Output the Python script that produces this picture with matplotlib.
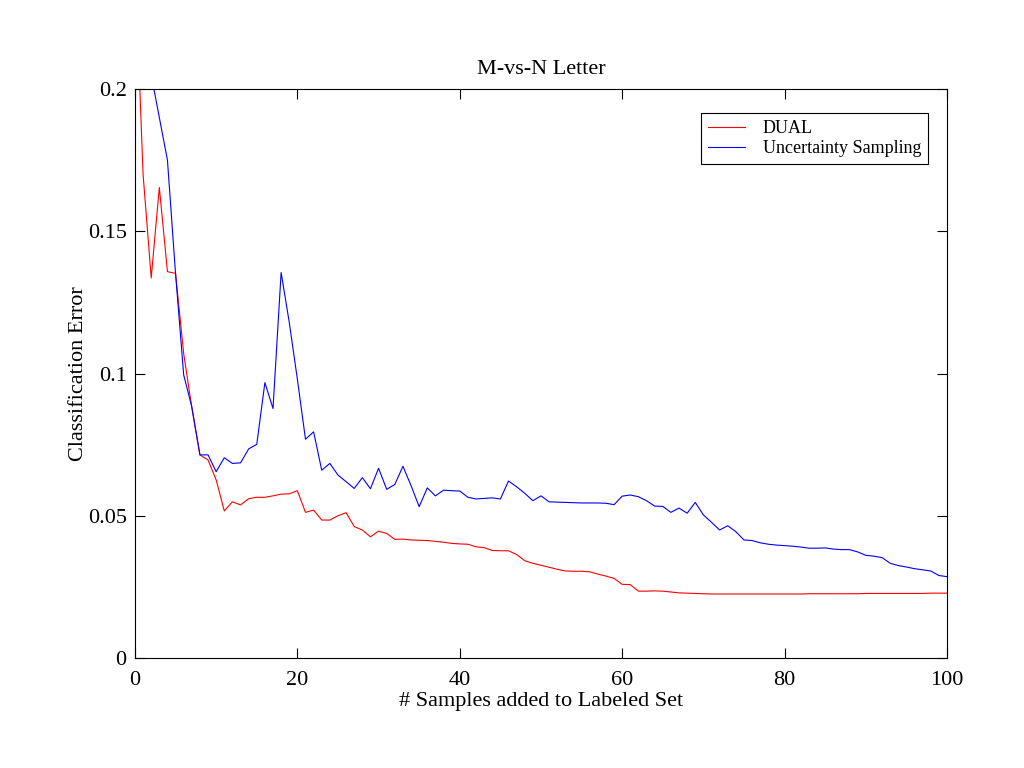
import numpy as np
import matplotlib.pyplot as plt

plt.rcParams['font.family'] = ['Liberation Serif', 'DejaVu Serif']

# samples added (0..100)
n_samples = np.arange(0, 101)

dual = [0.245, 0.170, 0.1336, 0.1654, 0.1358, 0.1352, 0.107, 0.088, 0.0714, 0.0696,
        0.0626, 0.0517, 0.0549, 0.0538, 0.0560, 0.0565, 0.0565, 0.0570, 0.0576, 0.0577,
        0.0588, 0.0512, 0.0520, 0.0485, 0.0485, 0.0500, 0.0511, 0.0462, 0.0450, 0.0426,
        0.0446, 0.0438, 0.0417, 0.0418, 0.0415, 0.0414, 0.0413, 0.0410, 0.0407, 0.0403,
        0.0401, 0.0400, 0.0391, 0.0388, 0.0378, 0.0377, 0.0377, 0.0364, 0.0342, 0.0333,
        0.0326, 0.0319, 0.0312, 0.0306, 0.0305, 0.0305, 0.0303, 0.0295, 0.0288, 0.0280,
        0.0259, 0.0258, 0.0235, 0.0235, 0.0236, 0.0235, 0.0232, 0.0229, 0.0228, 0.0227,
        0.0226, 0.0225, 0.0225, 0.0225, 0.0225, 0.0225, 0.0225, 0.0225, 0.0225, 0.0225,
        0.0225, 0.0225, 0.0225, 0.0226, 0.0226, 0.0226, 0.0226, 0.0226, 0.0226, 0.0226,
        0.0227, 0.0227, 0.0227, 0.0227, 0.0227, 0.0227, 0.0227, 0.0227, 0.0228, 0.0228,
        0.0228]

uncertainty = [0.300, 0.250, 0.205, 0.190, 0.175, 0.135, 0.0995, 0.0883, 0.0714, 0.0714,
               0.0655, 0.0704, 0.0684, 0.0686, 0.0735, 0.0751, 0.0968, 0.0877, 0.1355, 0.118,
               0.098, 0.0769, 0.0795, 0.0660, 0.0684, 0.0643, 0.0620, 0.0596, 0.0634, 0.0595,
               0.0667, 0.0593, 0.0610, 0.0674, 0.0606, 0.0532, 0.0598, 0.0570, 0.0590, 0.0588,
               0.0587, 0.0565, 0.0559, 0.0561, 0.0563, 0.0559, 0.0622, 0.0602, 0.0579, 0.0553,
               0.0570, 0.0549, 0.0548, 0.0547, 0.0546, 0.0545, 0.0545, 0.0545, 0.0544, 0.0539,
               0.0569, 0.0573, 0.0567, 0.0553, 0.0534, 0.0533, 0.0512, 0.0527, 0.0509, 0.0547,
               0.0503, 0.0477, 0.0450, 0.0465, 0.0444, 0.0415, 0.0413, 0.0405, 0.0400, 0.0397,
               0.0395, 0.0393, 0.0390, 0.0386, 0.0386, 0.0387, 0.0383, 0.0381, 0.0381, 0.0373,
               0.0361, 0.0358, 0.0353, 0.0333, 0.0325, 0.0320, 0.0314, 0.0310, 0.0306, 0.0290,
               0.0286]

fig = plt.figure(figsize=(10.24, 7.68), dpi=100)
ax = fig.add_axes([0.1318, 0.1432, 0.7930, 0.7409])

ax.plot(n_samples, dual, color='r', lw=0.8, label='DUAL')
ax.plot(n_samples, uncertainty, color='b', lw=0.8, label='Uncertainty Sampling')

ax.set_xlim(0, 100)
ax.set_ylim(0, 0.2)
ax.set_xticks([0, 20, 40, 60, 80, 100])
ax.set_yticks([0, 0.05, 0.1, 0.15, 0.2])
ax.set_yticklabels(['0', '0.05', '0.1', '0.15', '0.2'])
ax.tick_params(direction='in', top=True, right=True, length=7, width=0.8, labelsize=16)
ax.tick_params(axis='x', pad=9)
ax.tick_params(axis='y', pad=6)
for s in ax.spines.values():
    s.set_linewidth(0.8)

ax.set_title('M-vs-N Letter', fontsize=16, pad=11)
ax.set_xlabel('# Samples added to Labeled Set', fontsize=16, labelpad=2)
ax.set_ylabel('Classification Error', fontsize=16, labelpad=0)

leg = ax.legend(loc='upper right', bbox_to_anchor=(0.977, 0.958), fontsize=13,
                fancybox=False, edgecolor='black', framealpha=1, borderpad=0.4,
                handlelength=2.0, borderaxespad=0, labelspacing=0.15, handletextpad=1.0)
leg.get_frame().set_linewidth(0.8)

fig.savefig('out.png', dpi=100)
